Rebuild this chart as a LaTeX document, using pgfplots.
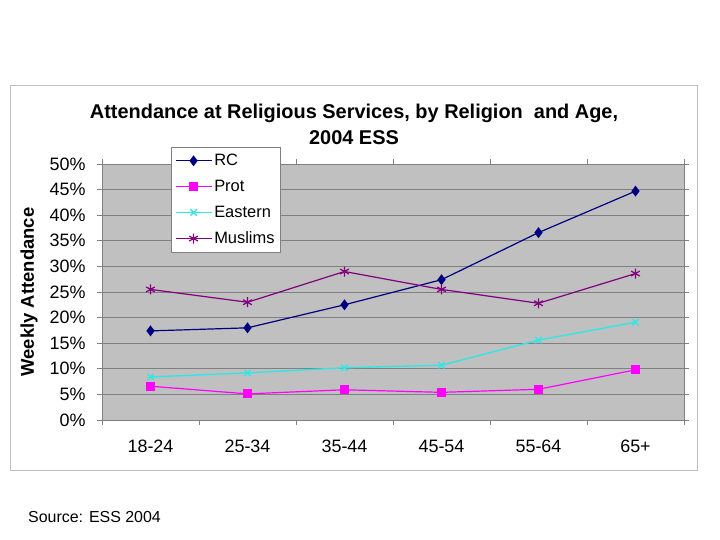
\documentclass[border=0pt]{standalone}
\usepackage{pgfplots}
\pgfplotsset{compat=1.18}
\usepackage{fontspec}
\setmainfont{Liberation Sans}
\definecolor{rc}{RGB}{0,0,128}
\definecolor{prot}{RGB}{255,0,255}
\definecolor{east}{RGB}{51,230,230}
\definecolor{musl}{RGB}{128,0,128}
\definecolor{plotbg}{RGB}{192,192,192}
\definecolor{gridc}{RGB}{128,128,128}
\begin{document}
\begin{tikzpicture}[x=1bp,y=1bp]
\path[fill=white] (0,0) rectangle (720,540);
\draw[color=gray!50, line width=0.8bp] (10,70) rectangle (697,455);
\node[font=\fontsize{20}{26}\selectfont\bfseries, align=center] at (354,416) {Attendance at Religious Services, by Religion\ \ and Age,\\2004 ESS};
\node[font=\fontsize{16}{18}\selectfont, anchor=west, inner sep=0pt] at (28,23) {Source: ESS 2004};
\begin{axis}[
  at={(102bp,120bp)}, anchor=south west,
  scale only axis, width=582bp, height=256bp,
  xmin=-0.5, xmax=5.5, ymin=0, ymax=50,
  axis background/.style={fill=plotbg},
  xtick={0,1,2,3,4,5},
  xticklabels={18-24,25-34,35-44,45-54,55-64,65+},
  major x tick style={draw=none},
  minor xtick={-0.5,0.5,1.5,2.5,3.5,4.5,5.5},
  minor tick length=5bp,
  ytick={0,5,...,50},
  yticklabel={\pgfmathprintnumber{\tick}\%},
  major tick length=5bp,
  tick align=outside,
  tick style={color=gridc, line width=0.8bp},
  ymajorgrids, grid style={color=gridc, line width=0.8bp},
  axis line style={color=gridc, line width=0.8bp},
  ticklabel style={font=\fontsize{18}{21}\selectfont},
  xticklabel style={anchor=north, text height=13bp, text depth=0bp, yshift=-11bp},
  yticklabel style={xshift=-8bp},
  /pgf/number format/assume math mode=true,
  ylabel={\bfseries Weekly Attendance},
  ylabel style={font=\fontsize{18.5}{21}\selectfont, at={(rel axis cs:0,0.5)}, anchor=center, yshift=73bp},
  legend style={at={(0.118,1.066)}, anchor=north west, draw=gridc, fill=white,
     font=\fontsize{16.5}{19}\selectfont, row sep=9bp, inner xsep=4bp, inner ysep=5bp},
  legend cell align=left,
  legend image code/.code={\draw[mark repeat=2,mark phase=2] plot coordinates {(0bp,0bp) (18bp,0bp) (36bp,0bp)};},
]
\addplot[color=rc, line width=1.2bp, mark=diamond*, mark size=4.5bp] coordinates {(0,17.4) (1,18.0) (2,22.5) (3,27.4) (4,36.6) (5,44.7)};
\addlegendentry{RC}
\addplot[color=prot, line width=1.2bp, mark=square*, mark size=3.8bp] coordinates {(0,6.6) (1,5.1) (2,5.9) (3,5.4) (4,6.0) (5,9.8)};
\addlegendentry{Prot}
\addplot[color=east, line width=1.4bp, mark=x, mark size=4.5bp] coordinates {(0,8.4) (1,9.2) (2,10.2) (3,10.7) (4,15.6) (5,19.1)};
\addlegendentry{Eastern}
\addplot[color=musl, line width=1.2bp, mark=asterisk, mark size=5bp] coordinates {(0,25.5) (1,23.0) (2,29.0) (3,25.5) (4,22.8) (5,28.6)};
\addlegendentry{Muslims}
\end{axis}
\end{tikzpicture}
\end{document}
